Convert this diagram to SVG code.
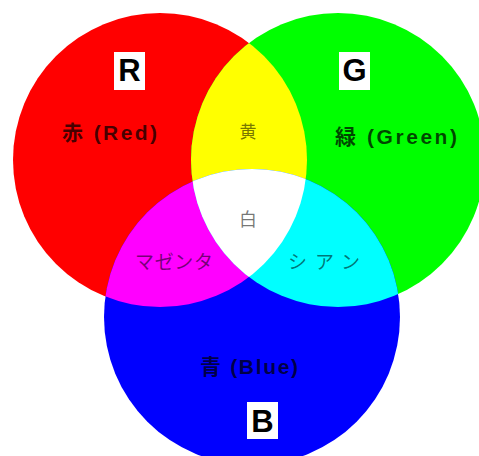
<svg xmlns="http://www.w3.org/2000/svg" width="479" height="456" viewBox="0 0 479 456">
<defs>
<clipPath id="clipR"><circle cx="160" cy="160" r="147"/></clipPath>
<clipPath id="clipG"><circle cx="338" cy="160" r="147"/></clipPath>
<style>
.big{font-family:"Liberation Sans","Noto Sans CJK JP",sans-serif;font-weight:bold;fill:#000;fill-opacity:0.72}
.small{font-family:"Liberation Sans","Noto Sans CJK JP",sans-serif;fill:#000;fill-opacity:0.55}
.letter{font-family:"Liberation Sans",Arial,sans-serif;font-weight:bold;font-size:31px;fill:#000;text-anchor:middle}
.box{fill:#fff}
</style>
</defs>
<rect width="479" height="456" fill="#fff"/>
<g id="circle-red"><circle cx="160" cy="160" r="147" fill="#ff0000"/></g>
<g id="circle-green"><circle cx="338" cy="160" r="147" fill="#00ff00"/></g>
<g id="circle-blue"><circle cx="252" cy="317" r="148" fill="#0000ff"/></g>
<g id="yellow"><circle cx="338" cy="160" r="147" fill="#ffff00" clip-path="url(#clipR)"/></g>
<g id="magenta"><circle cx="252" cy="317" r="148" fill="#ff00ff" clip-path="url(#clipR)"/></g>
<g id="cyan"><circle cx="252" cy="317" r="148" fill="#00ffff" clip-path="url(#clipG)"/></g>
<g id="white" clip-path="url(#clipR)"><circle cx="252" cy="317" r="148" fill="#ffffff" clip-path="url(#clipG)"/></g>
<g id="labels">
<text class="big" x="62" y="140" font-size="21" textLength="95">赤 (Red)</text>
<text class="big" x="335" y="144" font-size="21" textLength="122">緑 (Green)</text>
<text class="big" x="200" y="374" font-size="21" textLength="98">青 (Blue)</text>
<text class="small" x="248" y="138" font-size="17" text-anchor="middle">黄</text>
<text class="small" x="248" y="226" font-size="18" text-anchor="middle" fill-opacity="0.45">白</text>
<text class="small" x="135" y="269" font-size="19" textLength="78">マゼンタ</text>
<text class="small" x="288" y="269" font-size="19" textLength="72">シアン</text>
</g>
<g id="label-R"><rect class="box" x="114" y="52" width="31" height="38"/><text class="letter" x="129.5" y="81">R</text></g>
<g id="label-G"><rect class="box" x="339" y="52" width="31" height="38"/><text class="letter" x="354.5" y="81">G</text></g>
<g id="label-B"><rect class="box" x="247" y="402" width="31" height="37"/><text class="letter" x="262.5" y="432">B</text></g>
</svg>
